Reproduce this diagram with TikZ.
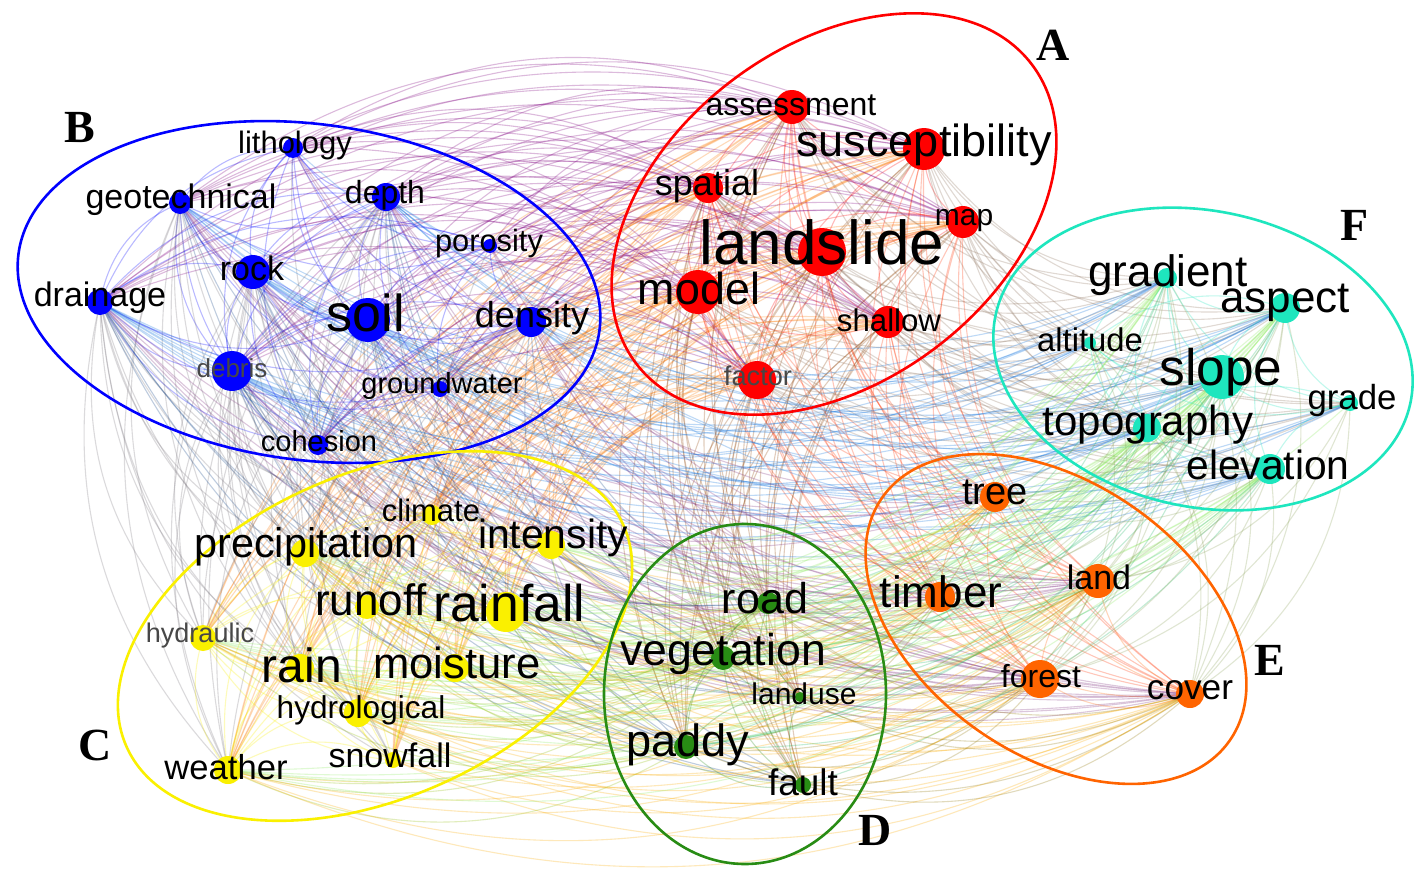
\documentclass[tikz,border=0pt]{standalone}
\usepackage{fontspec}
\setmainfont{Liberation Sans}
\newfontfamily\serifb{Liberation Serif}
\pgfdeclarelayer{edges}
\pgfdeclarelayer{labels}
\pgfsetlayers{edges,main,labels}
\definecolor{cA}{RGB}{255,0,0}
\definecolor{cB}{RGB}{0,0,255}
\definecolor{cC}{RGB}{250,240,0}
\definecolor{cD}{RGB}{40,140,20}
\definecolor{cE}{RGB}{255,100,0}
\definecolor{cF}{RGB}{30,230,190}
\tikzset{
  edge/.style={line width=0.55pt, draw opacity=0.27},
  kdot/.style={circle, inner sep=0pt, draw=none},
  klabel/.style={inner sep=0pt, text=black},
  ring/.style={line width=1.3pt},
  tag/.style={font=\serifb\bfseries\fontsize{23}{23}\selectfont, inner sep=0pt},
  lbl-debris/.style={text=black!72},
  lbl-factor/.style={text=black!72},
  lbl-hydraulic/.style={text=black!72},
}
% name / dot x / dot y / label x / label y / radius / font size / cluster / weight
\def\kwlist{%
assessment/792/107/791/105/17/16/A/3,%
susceptibility/924/149/924/145/21/22.5/A/3,%
spatial/708/188/707/186/15/18/A/3,%
map/963/222/964/221/16/15/A/3,%
landslide/822/252/822/242/24/31/A/3,%
model/698/292/699/288/22/22.4/A/3,%
shallow/888/322/889/320/16/15.6/A/3,%
factor/757/380/758/376/19/13.6/A/3,%
lithology/293/148/295/145/10/15.5/B/1,%
geotechnical/180/203/181/200/11/17/B/2,%
depth/386/197/385/195/14/16/B/3,%
porosity/490/246/489/244/7/15.4/B/1,%
rock/253/272/252/268/17/17/B/3,%
drainage/100/302/100/298/13/17/B/3,%
soil/368/320/366/313/22/26/B/3,%
density/531/322/532/318/15/18/B/2,%
debris/232/371/232/368/20/13/B/3,%
groundwater/440/389/442/386/8/14.5/B/1,%
cohesion/318/445/319/441/10/14.5/B/1,%
climate/432/515/431/510/10/15.5/C/1,%
intensity/551/545/553/538/14/20.4/C/2,%
precipitation/305/553/306/547/14/20.7/C/2,%
runoff/367/607/371/600/12/22/C/2,%
rainfall/506/612/509/603/20/25.8/C/3,%
hydraulic/203/638/200/636/13/13.5/C/2,%
rain/300/668/302/665/14/24/C/2,%
moisture/455/668/457/663/14/21.8/C/2,%
hydrological/358/713/361/710/14/15.8/C/2,%
snowfall/393/760/390/755/8/17/C/1,%
weather/228/770/226/767/14/17.3/C/2,%
road/768/603/765/598/11/21.5/D/2,%
vegetation/723/658/723/654/12/22.3/D/2,%
landuse/800/697/804/694/5/15/D/1,%
paddy/686/747/688/745/12/22.6/D/2,%
fault/803/785/803/782/8/18.5/D/1,%
tree/995/497/995/492/15/19/E/2,%
timber/940/597/941/592/15/22/E/2,%
land/1098/581/1099/577/17/17/E/3,%
forest/1040/679/1041/676/19/16/E/3,%
cover/1190/694/1190/690/14/17.6/E/3,%
gradient/1167/278/1168/275/10/22/F/2,%
aspect/1285/308/1285/303/15/22/F/2,%
altitude/1090/343/1090/340/6/16.4/F/1,%
slope/1222/377/1221/372/22/25.7/F/3,%
grade/1350/403/1352/400/8/17.4/F/1,%
topography/1147/428/1148/425/14/21/F/2,%
elevation/1270/469/1268/465/15/20.4/F/2%
}
\begin{document}
\begin{tikzpicture}[x=0.5pt,y=-0.5pt]
\useasboundingbox (0,0) rectangle (1425,878);
% keyword nodes
\foreach \nm/\px/\py/\lx/\ly/\rad/\fs/\cl/\wt in \kwlist {
  \node[kdot, fill=c\cl, minimum size=\rad pt] (\nm) at (\px,\py) {};
}
% labels
\begin{pgfonlayer}{labels}
\foreach \nm/\px/\py/\lx/\ly/\rad/\fs/\cl/\wt in \kwlist {
  \node[klabel, lbl-\nm/.try, font=\fontsize{\fs}{\fs}\selectfont] (\nm-t) at (\lx,\ly) {\nm};
}
\end{pgfonlayer}
% co-occurrence connectors
\begin{pgfonlayer}{edges}
\fill[white] (0,0) rectangle (1425,878);
\foreach \na/\pxa/\pya/\lxa/\lya/\ra/\fa/\ca/\wa [count=\i] in \kwlist {
  \foreach \nb/\pxb/\pyb/\lxb/\lyb/\rb/\fb/\cb/\wb [count=\j] in \kwlist {
    \ifnum\j>\i\relax
      \pgfmathtruncatemacro\pw{\wa*\wb}
      \ifx\ca\cb \def\pw{9}\fi
      \ifnum\pw>2\relax
        \colorlet{ec}{c\ca!50!c\cb}
        \draw[edge, draw=ec] (\na.center) to[bend right=28] (\nb.center);
      \fi
    \fi
  }
}
\end{pgfonlayer}
% cluster outlines
\draw[ring, cA, rotate around={37:(834,214)}] (834,214) ellipse [x radius=248, y radius=168];
\draw[ring, cB, rotate around={-7.5:(309,292)}] (309,292) ellipse [x radius=293, y radius=168];
\draw[ring, cC, rotate around={24:(375,636)}] (375,636) ellipse [x radius=272, y radius=162];
\draw[ring, cD] (745,694) ellipse [x radius=141, y radius=170];
\draw[ring, cE, rotate around={-35:(1056,619)}] (1056,619) ellipse [x radius=212, y radius=136];
\draw[ring, cF, rotate around={-12:(1203,359)}] (1203,359) ellipse [x radius=212, y radius=148];
% cluster tags
\node[tag] (tA) at (1053,45) {A};
\node[tag] (tB) at (80,128) {B};
\node[tag] (tC) at (95,745) {C};
\node[tag] (tD) at (875,830) {D};
\node[tag] (tE) at (1270,660) {E};
\node[tag] (tF) at (1355,225) {F};
\end{tikzpicture}
\end{document}
